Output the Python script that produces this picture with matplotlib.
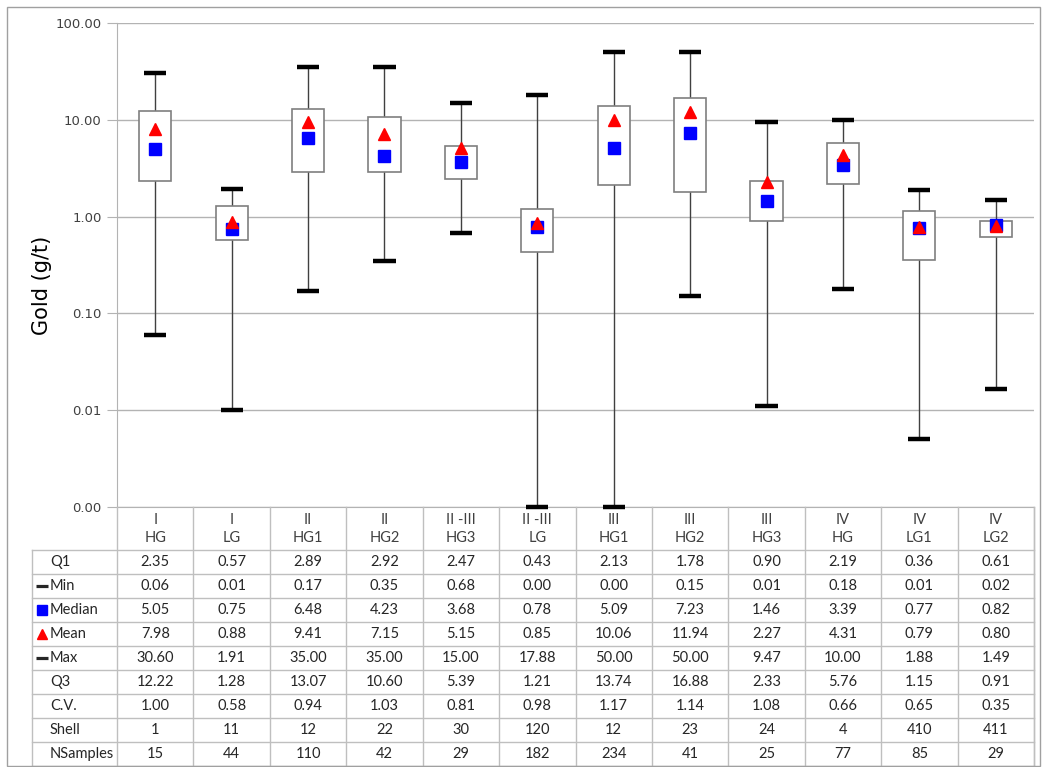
import matplotlib
matplotlib.use("Agg")
import matplotlib.pyplot as plt
from matplotlib.patches import Rectangle
from matplotlib.ticker import FixedLocator, FuncFormatter, NullLocator

# ---------------- data ----------------
zones = ["I", "I", "II", "II", "II -III", "II -III", "III", "III", "III", "IV", "IV", "IV"]
domains = ["HG", "LG", "HG1", "HG2", "HG3", "LG", "HG1", "HG2", "HG3", "HG", "LG1", "LG2"]
q1 = [2.35, 0.57, 2.89, 2.92, 2.47, 0.43, 2.13, 1.78, 0.90, 2.19, 0.36, 0.61]
vmin = [0.06, 0.01, 0.17, 0.35, 0.68, 0.001, 0.001, 0.15, 0.011, 0.18, 0.0051, 0.0165]
median = [5.05, 0.75, 6.48, 4.23, 3.68, 0.78, 5.09, 7.23, 1.46, 3.39, 0.77, 0.82]
mean = [7.98, 0.88, 9.41, 7.15, 5.15, 0.85, 10.06, 11.94, 2.27, 4.31, 0.79, 0.80]
vmax = [30.60, 1.91, 35.00, 35.00, 15.00, 17.88, 50.00, 50.00, 9.47, 10.00, 1.88, 1.49]
q3 = [12.22, 1.28, 13.07, 10.60, 5.39, 1.21, 13.74, 16.88, 2.33, 5.76, 1.15, 0.91]
cv = [1.00, 0.58, 0.94, 1.03, 0.81, 0.98, 1.17, 1.14, 1.08, 0.66, 0.65, 0.35]
shell = [1, 11, 12, 22, 30, 120, 12, 23, 24, 4, 410, 411]
nsamples = [15, 44, 110, 42, 29, 182, 234, 41, 25, 77, 85, 29]
yticks = [0.001, 0.01, 0.1, 1, 10, 100]

# ---------------- figure ----------------
W, H = 1048, 767
fig = plt.figure(figsize=(W / 100, H / 100), dpi=100)
fig.patch.set_facecolor("white")

GRID = "#b3b3b3"
LINE = "#7f7f7f"

ax_l, ax_r, ax_top, ax_bot = 117, 1034, 23, 507
ax = fig.add_axes([ax_l / W, 1 - ax_bot / H, (ax_r - ax_l) / W, (ax_bot - ax_top) / H])
ax.set_yscale("log")
ax.set_ylim(0.001, 100)
n = len(q1)
ax.set_xlim(-0.5, n - 0.5)
xs = list(range(n))

ax.yaxis.set_major_locator(FixedLocator(yticks))
ax.yaxis.set_minor_locator(NullLocator())
ax.yaxis.set_major_formatter(FuncFormatter(lambda v, p: f"{v:.2f}"))
ax.set_xticks([])
ax.tick_params(axis="y", length=7, color=GRID, labelsize=9.5, labelcolor="#404040", pad=4)
for t in ax.get_yticklabels():
    t.set_fontfamily("DejaVu Sans")
ax.yaxis.grid(True, color=GRID, lw=1.0)
ax.set_axisbelow(True)
for s in ["top", "right"]:
    ax.spines[s].set_visible(False)
ax.spines["left"].set_color(GRID)
ax.spines["bottom"].set_color(GRID)

# whiskers
ax.vlines(xs, vmin, vmax, color="#404040", lw=1.0, zorder=2)
# boxes
heights = [b - a for a, b in zip(q1, q3)]
ax.bar(xs, heights, bottom=q1, width=0.42, facecolor="white", edgecolor=LINE, lw=1.2, zorder=3)
# caps
cw = 0.145
ax.hlines(vmin, [x - cw for x in xs], [x + cw for x in xs], color="black", lw=3.2, zorder=4, clip_on=False)
ax.hlines(vmax, [x - cw for x in xs], [x + cw for x in xs], color="black", lw=3.2, zorder=4, clip_on=False)
# markers
ax.plot(xs, median, ls="none", marker="s", ms=8, color="#0000ff", zorder=5)
ax.plot(xs, mean, ls="none", marker="^", ms=8.5, color="#ff0000", zorder=6)

fig.text(42 / W, 1 - 285 / H, "Gold (g/t)", rotation=90, fontsize=15,
         ha="center", va="center", family="DejaVu Sans", color="black")

# ---------------- table ----------------
tb_l, tb_top, tb_bot = 32, 507, 766
ppu = (ax_r - ax_l) / n
xl = -0.5 - (ax_l - tb_l) / ppu
axt = fig.add_axes([tb_l / W, 1 - tb_bot / H, (ax_r - tb_l) / W, (tb_bot - tb_top) / H])
axt.set_xlim(xl, n - 0.5)
axt.set_ylim(tb_bot - tb_top, 0)
axt.axis("off")

hdr = 43
rh = (tb_bot - tb_top - hdr) / 9
TL = "#bfbfbf"
for k in range(10):
    y = hdr + k * rh
    axt.plot([xl, n - 0.5], [y, y], color=TL, lw=1.0, clip_on=False)
for i in range(n + 1):
    axt.plot([i - 0.5, i - 0.5], [0, tb_bot - tb_top], color=TL, lw=1.0, clip_on=False)
axt.plot([xl, xl], [hdr, tb_bot - tb_top], color=TL, lw=1.0, clip_on=False)
axt.plot([n - 0.5, n - 0.5], [0, tb_bot - tb_top], color=TL, lw=1.0, clip_on=False)

TF = ["Lato", "DejaVu Sans"]
fs = 10.5
for i in range(n):
    axt.text(i, 13, zones[i], ha="center", va="center", fontsize=fs, family=TF, color="#404040")
    axt.text(i, 31, domains[i], ha="center", va="center", fontsize=fs, family=TF, color="#404040")

rows = [
    ("Q1", q1, None),
    ("Min", vmin, "dash"),
    ("Median", median, "square"),
    ("Mean", mean, "tri"),
    ("Max", vmax, "dash"),
    ("Q3", q3, None),
    ("C.V.", cv, None),
    ("Shell", shell, "int"),
    ("NSamples", nsamples, "int"),
]
lab_x = xl + (50 - tb_l) / ppu
sym_x = xl + (42 - tb_l) / ppu
for k, (name, vals, kind) in enumerate(rows):
    yc = hdr + (k + 0.5) * rh
    axt.text(lab_x, yc, name, ha="left", va="center", fontsize=fs, family=TF, color="#262626")
    if kind == "dash":
        axt.plot([sym_x], [yc], marker="_", ms=9, mew=2.3, color="#262626", clip_on=False)
    elif kind == "square":
        axt.plot([sym_x], [yc], marker="s", ms=7, color="#0000ff", clip_on=False)
    elif kind == "tri":
        axt.plot([sym_x], [yc], marker="^", ms=7.5, color="#ff0000", clip_on=False)
    for i, v in enumerate(vals):
        s = f"{v:d}" if kind == "int" else f"{v:.2f}"
        axt.text(i, yc, s, ha="center", va="center", fontsize=fs, family=TF, color="#262626")

# outer frame
fig.add_artist(Rectangle((7 / W, 1 - 766 / H), (1040 - 7) / W, (766 - 7) / H,
                         transform=fig.transFigure, fill=False, edgecolor="#a0a0a0", lw=1.0))

fig.savefig("out.png", dpi=100)
